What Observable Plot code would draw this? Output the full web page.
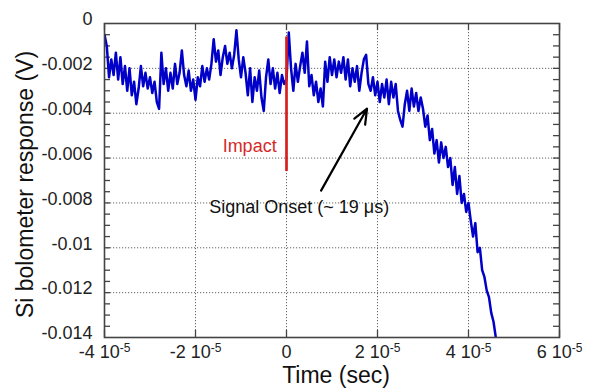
<!DOCTYPE html>
<html>
<head>
<meta charset="utf-8">
<script src="https://cdn.jsdelivr.net/npm/d3@7"></script>
<script src="https://cdn.jsdelivr.net/npm/@observablehq/plot@0.6"></script>
<style>
  html, body { margin: 0; padding: 0; background: #fff; }
</style>
</head>
<body>
<div id="chart"></div>
<script>
// Sample times (microseconds)
const timeUs = [
  -40,-39.5,-39,-38.5,-38,-37.5,-37,-36.5,-36,-35.5,
  -35,-34.5,-34,-33.5,-33,-32.5,-32,-31.5,-31,-30.5,
  -30,-29.5,-29,-28.5,-28,-27.5,-27,-26.5,-26,-25.5,
  -25,-24.5,-24,-23.5,-23,-22.5,-22,-21.5,-21,-20.5,
  -20,-19.5,-19,-18.5,-18,-17.5,-17,-16.5,-16,-15.5,
  -15,-14.5,-14,-13.5,-13,-12.5,-12,-11.5,-11,-10.5,
  -10,-9.5,-9,-8.5,-8,-7.5,-7,-6.5,-6,-5.5,
  -5,-4.5,-4,-3.5,-3,-2.5,-2,-1.5,-1,-0.5,
  0,0.5,1,1.5,2,2.5,3,3.5,4,4.5,
  5,5.5,6,6.5,7,7.5,8,8.5,9,9.5,
  10,10.5,11,11.5,12,12.5,13,13.5,14,14.5,
  15,15.5,16,16.5,17,17.5,18,18.5,19,19.5,
  20,20.5,21,21.5,22,22.5,23,23.5,24,24.5,
  25,25.5,26,26.5,27,27.5,28,28.5,29,29.5,
  30,30.5,31,31.5,32,32.5,33,33.5,34,34.5,
  35,35.5,36,36.5,37,37.5,38,38.5,39,39.5,
  40,40.5,41,41.5,42,42.5,43,43.5,44,44.5,45,45.5,46,46.5
];
// Bolometer response (millivolts)
const responseMv = [
  -0.5,-1.0,-2.4,-1.6,-2.3,-1.3,-2.5,-1.5,-2.7,-1.9,
  -3.0,-2.0,-3.2,-2.6,-3.6,-2.9,-1.9,-2.8,-2.2,-2.9,
  -2.4,-3.1,-2.6,-3.5,-3.8,-1.3,-2.7,-2.0,-3.0,-2.2,
  -2.9,-1.8,-2.7,-2.2,-1.2,-2.3,-2.8,-2.1,-3.0,-2.5,
  -3.4,-2.4,-2.8,-1.9,-2.6,-2.0,-2.5,-1.8,-0.7,-1.7,
  -1.2,-2.3,-1.5,-1.0,-1.8,-1.3,-2.0,-1.4,-0.3,-1.6,
  -2.4,-1.5,-2.2,-3.2,-2.0,-3.5,-2.4,-3.0,-2.1,-3.3,
  -3.9,-2.4,-1.6,-2.7,-2.0,-2.9,-2.2,-3.1,-2.3,-2.7,
  -2.5,-0.4,-2.0,-3.0,-1.8,-2.6,-1.9,-1.3,-2.2,-0.8,
  -2.8,-2.3,-3.2,-2.6,-3.5,-2.9,-3.7,-1.7,-2.6,-1.5,
  -2.3,-1.6,-2.4,-1.7,-2.2,-1.5,-2.5,-1.6,-2.8,-2.0,
  -2.6,-1.9,-3.0,-2.2,-1.6,-1.4,-2.7,-3.0,-2.4,-3.2,
  -2.6,-3.5,-2.7,-3.3,-2.5,-3.6,-2.6,-3.3,-2.7,-3.9,
  -4.3,-4.6,-3.6,-3.0,-3.9,-2.9,-3.7,-3.1,-3.9,-3.3,
  -3.8,-4.6,-4.1,-5.2,-4.7,-5.8,-5.2,-6.2,-5.3,-6.0,
  -5.5,-6.4,-6.0,-7.2,-6.4,-7.6,-6.8,-8.0,-7.6,-8.4,
  -8.0,-8.8,-9.5,-8.9,-10.2,-10.0,-11.0,-11.3,-11.9,-12.2,-12.9,-13.3,-14.0,-14.3
];

// Axis ticks and labels
const xTicks = [-4e-5, -2e-5, 0, 2e-5, 4e-5, 6e-5];
const xTickLabels = ["-4 10^-5", "-2 10^-5", "0", "2 10^-5", "4 10^-5", "6 10^-5"];
const xGrid = [-2e-5, 0, 2e-5, 4e-5];
const yTicks = [0, -0.002, -0.004, -0.006, -0.008, -0.01, -0.012, -0.014];
const yTickLabels = ["0", "-0.002", "-0.004", "-0.006", "-0.008", "-0.01", "-0.012", "-0.014"];
const yGrid = [-0.002, -0.004, -0.006, -0.008, -0.01, -0.012];
const yMinorTicks = [-0.0135,-0.013,-0.0125,-0.012,-0.0115,-0.011,-0.0105,-0.01,-0.0095,-0.009,-0.0085,-0.008,-0.0075,-0.007,-0.0065,-0.006,-0.0055,-0.005,-0.0045,-0.004,-0.0035,-0.003,-0.0025,-0.002,-0.0015,-0.001,-0.0005];

const xLabel = "Time (sec)";
const yLabel = "Si bolometer response (V)";

// Annotations
const impactLine = [{t: 0, y1: -0.0006, y2: -0.0066}];
const impactText = [{t: -8.1e-6, y: -0.00549, label: "Impact"}];
const onsetText = [{t: 2.8e-6, y: -0.0082, label: "Signal Onset (~ 19 \u03bcs)"}];
const onsetArrow = [{t1: 7.6e-6, y1: -0.00745, t2: 17.7e-6, y2: -0.0038}];

const data = timeUs.map((t, i) => ({t: t * 1e-6, v: responseMv[i] * 1e-3}));

const W = 591, H = 391, ML = 104, MR = 32, MT = 23, MB = 54;
const fw = W - ML - MR, fh = H - MT - MB;
const tickLen = 6;

const chart = Plot.plot({
  width: W, height: H,
  marginLeft: ML, marginRight: MR, marginTop: MT, marginBottom: MB,
  style: {fontFamily: "'Liberation Sans', Arial, sans-serif", background: "#fff", color: "#222"},
  x: {domain: [-4e-5, 6e-5]},
  y: {domain: [-0.014, 0]},
  marks: [
    Plot.gridX(xGrid, {stroke: "#666", strokeOpacity: 1, strokeWidth: 1, strokeDasharray: "1.2,1.8"}),
    Plot.gridY(yGrid, {stroke: "#666", strokeOpacity: 1, strokeWidth: 1, strokeDasharray: "1.2,1.8"}),
    // inward ticks
    Plot.tickY(yMinorTicks, {y: d => d, insetRight: fw - tickLen, stroke: "#444", strokeWidth: 1.3}),
    Plot.tickY(yMinorTicks, {y: d => d, insetLeft: fw - tickLen, stroke: "#444", strokeWidth: 1.3}),
    Plot.tickX(xTicks, {x: d => d, insetTop: fh - tickLen - 1, stroke: "#444", strokeWidth: 1.3}),
    Plot.tickX(xTicks, {x: d => d, insetBottom: fh - tickLen - 1, stroke: "#444", strokeWidth: 1.3}),
    Plot.line(data, {x: "t", y: "v", stroke: "#0000c8", strokeWidth: 2.5, clip: true}),
    Plot.ruleX(impactLine, {x: "t", y1: "y1", y2: "y2", stroke: "#d81e1e", strokeWidth: 2.7}),
    Plot.text(impactText, {x: "t", y: "y", text: "label", fill: "#d42a2a", fontSize: 18, textAnchor: "middle"}),
    Plot.text(onsetText, {x: "t", y: "y", text: "label", fill: "#111", fontSize: 18, textAnchor: "middle"}),
    Plot.arrow(onsetArrow, {x1: "t1", y1: "y1", x2: "t2", y2: "y2", stroke: "#000", strokeWidth: 2.2, headLength: 11, headAngle: 45}),
    Plot.frame({stroke: "#444", strokeWidth: 1.6}),
    Plot.axisX({ticks: xTicks, tickSize: 0, tickPadding: 8, fontSize: 18,
      tickFormat: d => xTickLabels[xTicks.findIndex(v => Math.abs(v - d) < 1e-9)], label: null}),
    Plot.axisY({ticks: yTicks, tickSize: 0, tickPadding: 12, fontSize: 18, dy: -4,
      tickFormat: d => yTickLabels[yTicks.findIndex(v => Math.abs(v - d) < 1e-9)], label: null}),
    Plot.text([xLabel], {frameAnchor: "bottom", text: d => d, fontSize: 23, dx: 4, dy: 38, textAnchor: "middle", lineAnchor: "middle", fill: "#111"}),
    Plot.text([yLabel], {frameAnchor: "left", text: d => d, fontSize: 23, rotate: -90, dx: -79, dy: 4, textAnchor: "middle", lineAnchor: "middle", fill: "#111"})
  ]
});

// superscript exponents on x tick labels
const ns = "http://www.w3.org/2000/svg";
chart.querySelectorAll('g[aria-label="x-axis tick label"] text').forEach(t => {
  const s = t.textContent;
  const parts = s.split("^");
  if (parts.length === 2) {
    t.textContent = "";
    const a = document.createElementNS(ns, "tspan");
    a.textContent = parts[0];
    const b = document.createElementNS(ns, "tspan");
    b.textContent = parts[1];
    b.setAttribute("dy", "-0.5em");
    b.setAttribute("font-size", "12");
    t.append(a, b);
  }
});

document.getElementById("chart").appendChild(chart);
</script>
</body>
</html>
